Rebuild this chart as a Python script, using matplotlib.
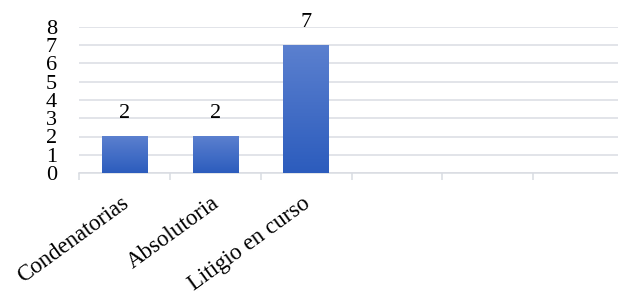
import numpy as np
import matplotlib.pyplot as plt
import matplotlib.transforms as mtransforms
from matplotlib.colors import LinearSegmentedColormap

categories = ["Condenatorias", "Absolutoria", "Litigio en curso", "", "", ""]
values = [2, 2, 7, None, None, None]
y_ticks = [0, 1, 2, 3, 4, 5, 6, 7, 8]

plt.rcParams['font.family'] = ['Liberation Serif', 'DejaVu Serif']

fig = plt.figure(figsize=(6.18, 2.95), dpi=100)
ax = fig.add_axes([79 / 618, 1 - 173 / 295, 545 / 618, 146 / 295])

n = len(categories)
x = np.arange(n)
grad = LinearSegmentedColormap.from_list("bar", ["#2c5cbd", "#5b80cf"])
gradient = np.linspace(0, 1, 256).reshape(-1, 1)

for xi, v in zip(x, values):
    if v is None:
        continue
    bar = ax.bar(xi, v, width=0.5, color="none", edgecolor="none", zorder=3)[0]
    im = ax.imshow(gradient, cmap=grad, origin="lower", aspect="auto",
                   extent=[xi - 0.25, xi + 0.25, 0, v], zorder=3)
    im.set_clip_path(bar)
    ax.text(xi, v + 0.75, str(v), ha="center", va="bottom", fontsize=16)

ax.set_xlim(-0.5, n - 0.5)
ax.set_ylim(0, 8)
ax.set_yticks(y_ticks)
ax.tick_params(axis="y", length=0, labelsize=16, pad=16)
ax.yaxis.grid(True, color="#dadde3", linewidth=1.1, zorder=0)
ax.set_axisbelow(True)

ax.set_xticks(np.arange(n + 1) - 0.5, minor=False)
ax.set_xticklabels([])
ax.set_xticks(x, minor=True)
ax.set_xticklabels(categories, minor=True, rotation=36, ha="right",
                   rotation_mode="anchor", fontsize=16.5)
ax.tick_params(axis="x", which="major", length=5, color="#d9dce2", width=1.1)
ax.tick_params(axis="x", which="minor", length=0, pad=10)

# nudge the rotated labels a bit left and down
shift = mtransforms.ScaledTranslation(-4 / 100, -6 / 100, fig.dpi_scale_trans)
for lab in ax.get_xticklabels(minor=True):
    lab.set_transform(lab.get_transform() + shift)

for s in ["top", "right", "left"]:
    ax.spines[s].set_visible(False)
ax.spines["bottom"].set_color("#d9dce2")
ax.spines["bottom"].set_linewidth(1.1)

fig.savefig("out.png", dpi=100)
